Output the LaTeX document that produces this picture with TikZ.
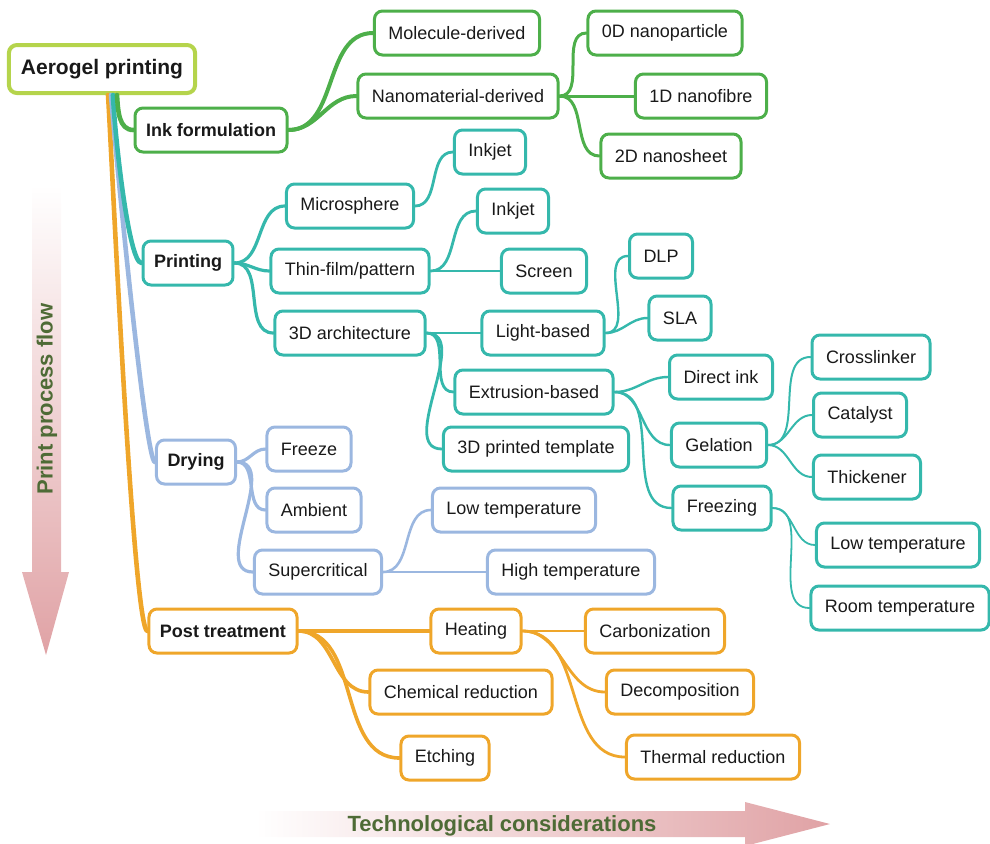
\documentclass[tikz,border=0pt]{standalone}
\usepackage{fontspec}
\setmainfont{Liberation Sans}
\usetikzlibrary{positioning}

\definecolor{rootlime}{HTML}{B5D44C}
\definecolor{inkgreen}{HTML}{4DAF4A}
\definecolor{printteal}{HTML}{35B8AC}
\definecolor{dryblue}{HTML}{9BB7E0}
\definecolor{postorange}{HTML}{EFA62A}
\definecolor{flowolive}{HTML}{4E6B36}
\definecolor{flowpink}{HTML}{E0A2A5}

\tikzset{
  box/.style={draw, rounded corners=4pt, line width=1.5pt, minimum height=22pt,
    inner xsep=7pt, text=black!90, font=\fontsize{9}{11}\selectfont},
  topic/.style={box, inner xsep=5.5pt, font=\fontsize{9}{11}\selectfont\bfseries},
  link/.style={line cap=round, out=0, in=180},
  trunk/.style={line cap=round, line width=2.3pt, out=-86, in=180,
    out looseness=0.2, in looseness=0.07},
  flowtext/.style={text=flowolive, font=\fontsize{11}{13}\selectfont\bfseries},
}

\begin{document}
\begin{tikzpicture}[x=0.5pt, y=-0.5pt]

\useasboundingbox (0,0) rectangle (990,843);

% arrows in the back
\shade[top color=white, bottom color=flowpink]
  (32,185) -- (61,185) -- (61,572) -- (69,572) -- (46,655) -- (22,572) -- (32,572) -- cycle;
\shade[left color=white, right color=flowpink]
  (255,811) -- (745,811) -- (745,802) -- (830,824) -- (745,846) -- (745,837) -- (255,837) -- cycle;
\node[flowtext, rotate=90] (flow) at (47,399) {Print process flow};
\node[flowtext] (tech) at (502,826) {Technological considerations};

% root
\node[box, draw=rootlime, line width=2pt, minimum height=24pt, inner xsep=6pt,
  font=\fontsize{10.5}{12}\selectfont\bfseries] (root) at (102,69) {Aerogel printing};

% ink formulation
\node[topic, draw=inkgreen] (ink) at (211,130) {Ink formulation};
\node[box, draw=inkgreen] (mol) at (457,33) {Molecule-derived};
\node[box, draw=inkgreen] (nano) at (458,96) {Nanomaterial-derived};
\node[box, draw=inkgreen] (zeroD) at (665,33) {0D nanoparticle};
\node[box, draw=inkgreen] (oneD) at (701,96) {1D nanofibre};
\node[box, draw=inkgreen] (twoD) at (671,156) {2D nanosheet};

% printing
\node[topic, draw=printteal] (print) at (188,263) {Printing};
\node[box, draw=printteal] (micro) at (350,206) {Microsphere};
\node[box, draw=printteal] (inkjetA) at (490,152) {Inkjet};
\node[box, draw=printteal] (thin) at (350,271) {Thin-film/pattern};
\node[box, draw=printteal] (inkjetB) at (513,211) {Inkjet};
\node[box, draw=printteal] (screen) at (544,271) {Screen};
\node[box, draw=printteal] (arch) at (350,333) {3D architecture};
\node[box, draw=printteal] (light) at (543,333) {Light-based};
\node[box, draw=printteal] (dlp) at (661,256) {DLP};
\node[box, draw=printteal] (sla) at (680,318) {SLA};
\node[box, draw=printteal] (extr) at (534,392) {Extrusion-based};
\node[box, draw=printteal] (templ) at (536,449) {3D printed template};
\node[box, draw=printteal] (direct) at (721,377) {Direct ink};
\node[box, draw=printteal] (gel) at (719,445) {Gelation};
\node[box, draw=printteal] (freezing) at (722,508) {Freezing};
\node[box, draw=printteal] (cross) at (871,357) {Crosslinker};
\node[box, draw=printteal] (cata) at (860,415) {Catalyst};
\node[box, draw=printteal] (thick) at (867,477) {Thickener};
\node[box, draw=printteal] (lowF) at (898,545) {Low temperature};
\node[box, draw=printteal] (roomF) at (900,608) {Room temperature};

% drying
\node[topic, draw=dryblue] (dry) at (196,462) {Drying};
\node[box, draw=dryblue] (freeze) at (309,449) {Freeze};
\node[box, draw=dryblue] (amb) at (314,510) {Ambient};
\node[box, draw=dryblue] (super) at (318,572) {Supercritical};
\node[box, draw=dryblue] (lowS) at (514,510) {Low temperature};
\node[box, draw=dryblue] (highS) at (571,572) {High temperature};

% post treatment
\node[topic, draw=postorange] (post) at (223,631) {Post treatment};
\node[box, draw=postorange] (heat) at (476,631) {Heating};
\node[box, draw=postorange] (chem) at (461,692) {Chemical reduction};
\node[box, draw=postorange] (etch) at (445,758) {Etching};
\node[box, draw=postorange] (carb) at (655,631) {Carbonization};
\node[box, draw=postorange] (decomp) at (680,692) {Decomposition};
\node[box, draw=postorange] (thermal) at (713,757) {Thermal reduction};

% trunks from the root
\draw[trunk, postorange] ([xshift=3pt]root.south) to (post.west);
\draw[trunk, dryblue] ([xshift=4.5pt]root.south) to (dry.west);
\draw[trunk, printteal, out=-88, out looseness=0.5, in looseness=0.2] ([xshift=5.5pt]root.south) to (print.west);
\draw[trunk, inkgreen, out looseness=1, in looseness=1] ([xshift=7.5pt]root.south) to (ink.west);

% branches
\foreach \c in {mol,nano}
  \draw[link, inkgreen, line width=2pt] (ink.east) to (\c.west);
\foreach \c in {zeroD,oneD,twoD}
  \draw[link, inkgreen, line width=1.5pt] (nano.east) to (\c.west);

\foreach \c in {micro,thin,arch}
  \draw[link, printteal, line width=1.6pt] (print.east) to (\c.west);
\draw[link, printteal, line width=1.4pt] (micro.east) to (inkjetA.west);
\foreach \c in {inkjetB,screen}
  \draw[link, printteal, line width=1.4pt] (thin.east) to (\c.west);
\foreach \c in {light,extr,templ}
  \draw[link, printteal, line width=1.4pt] (arch.east) to (\c.west);
\foreach \c in {dlp,sla}
  \draw[link, printteal, line width=1.2pt] (light.east) to (\c.west);
\foreach \c in {direct,gel,freezing}
  \draw[link, printteal, line width=1.2pt] (extr.east) to (\c.west);
\foreach \c in {cross,cata,thick}
  \draw[link, printteal, line width=1pt] (gel.east) to (\c.west);
\foreach \c in {lowF,roomF}
  \draw[link, printteal, line width=0.9pt] (freezing.east) to (\c.west);

\foreach \c in {freeze,amb,super}
  \draw[link, dryblue, line width=1.6pt] (dry.east) to (\c.west);
\foreach \c in {lowS,highS}
  \draw[link, dryblue, line width=1.3pt] (super.east) to (\c.west);

\foreach \c in {heat,chem,etch}
  \draw[link, postorange, line width=1.8pt] (post.east) to (\c.west);
\foreach \c in {carb,decomp,thermal}
  \draw[link, postorange, line width=1.4pt] (heat.east) to (\c.west);

\end{tikzpicture}
\end{document}
